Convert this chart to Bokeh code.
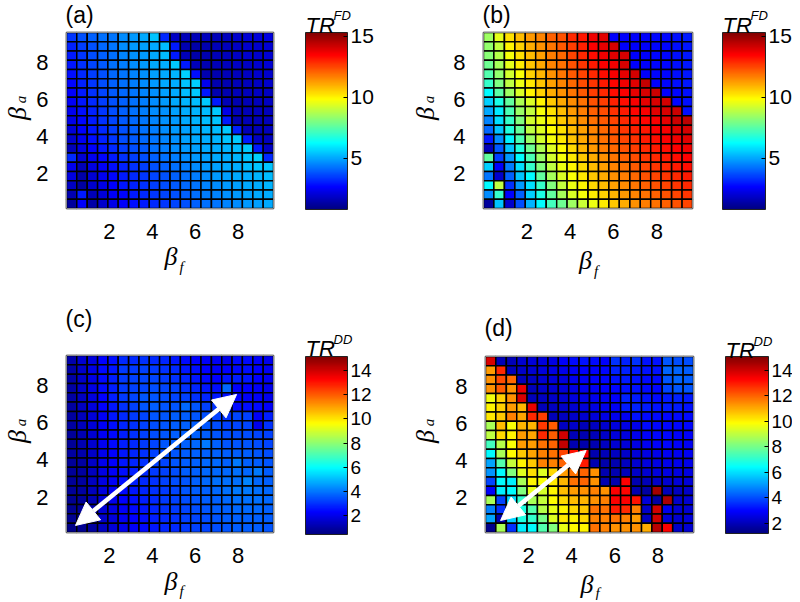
import numpy as np
from bokeh.plotting import figure
from bokeh.models import Range1d, FixedTicker, Arrow, NormalHead, LinearColorMapper, ColumnDataSource, LinearAxis
from bokeh.layouts import row, column
from bokeh.transform import linear_cmap
from bokeh.core.properties import value
from bokeh.embed import file_html
from bokeh.resources import INLINE

# ---------------- data ----------------
BETA_F = [0.24, 0.72, 1.21, 1.69, 2.17, 2.65, 3.14, 3.62, 4.10, 4.58,
          5.07, 5.55, 6.03, 6.51, 7.00, 7.48, 7.96, 8.44, 8.93, 9.41]
BETA_A = [9.35, 8.85, 8.35, 7.85, 7.35, 6.85, 6.35, 5.85, 5.35, 4.85,
          4.35, 3.85, 3.35, 2.85, 2.35, 1.85, 1.35, 0.85, 0.35]
TICKS_XY = [2, 4, 6, 8]
TICKS_FD = [5, 10, 15]
TICKS_DD = [2, 4, 6, 8, 10, 12, 14]
LABELS = ["(a)", "(b)", "(c)", "(d)"]

# rows: beta_a from 9.35 (top) down to 0.35 (bottom); columns: beta_f
TR_FD_A = [
    [3.4, 3.8, 4.0, 4.2, 4.3, 4.6, 4.8, 5.0, 5.4, 3.2, 1.8, 1.6, 1.6, 1.7, 1.6, 1.7, 1.9, 2.0, 2.1, 2.2],
    [3.1, 3.5, 3.8, 4.1, 4.3, 4.6, 4.8, 4.9, 5.0, 5.3, 3.0, 1.5, 1.4, 1.5, 1.6, 1.7, 1.8, 1.9, 1.9, 2.0],
    [3.0, 3.4, 3.7, 4.0, 4.2, 4.5, 4.7, 4.8, 5.0, 5.3, 3.0, 1.6, 1.4, 1.5, 1.6, 1.7, 1.8, 1.9, 1.9, 2.0],
    [2.9, 3.3, 3.6, 3.9, 4.2, 4.4, 4.6, 4.8, 5.0, 5.1, 5.5, 3.0, 1.6, 1.5, 1.6, 1.7, 1.8, 1.8, 1.9, 2.0],
    [2.8, 3.2, 3.5, 3.8, 4.1, 4.3, 4.5, 4.7, 4.9, 5.0, 5.2, 5.6, 2.8, 1.5, 1.5, 1.6, 1.7, 1.8, 1.9, 1.9],
    [2.7, 3.1, 3.4, 3.7, 4.0, 4.2, 4.4, 4.6, 4.8, 5.0, 5.1, 5.4, 5.6, 2.4, 1.5, 1.5, 1.6, 1.7, 1.8, 1.9],
    [2.6, 3.0, 3.3, 3.6, 3.9, 4.1, 4.3, 4.5, 4.7, 4.9, 5.0, 5.3, 5.5, 2.9, 1.5, 1.5, 1.6, 1.7, 1.8, 1.8],
    [2.5, 2.9, 3.2, 3.5, 3.8, 4.0, 4.2, 4.4, 4.6, 4.8, 5.0, 5.2, 5.3, 5.5, 3.0, 1.6, 1.5, 1.6, 1.7, 1.8],
    [2.4, 2.8, 3.1, 3.4, 3.7, 4.0, 4.2, 4.4, 4.6, 4.7, 4.9, 5.1, 5.2, 5.3, 5.5, 2.3, 1.6, 1.6, 1.7, 1.7],
    [2.3, 2.7, 3.0, 3.3, 3.6, 3.9, 4.1, 4.3, 4.5, 4.7, 4.8, 5.0, 5.2, 5.3, 5.4, 3.0, 1.5, 1.6, 1.6, 1.7],
    [2.1, 2.6, 2.9, 3.2, 3.5, 3.8, 4.0, 4.2, 4.4, 4.6, 4.8, 4.9, 5.1, 5.2, 5.3, 5.5, 3.1, 1.6, 1.6, 1.7],
    [1.9, 2.4, 2.8, 3.1, 3.4, 3.7, 3.9, 4.1, 4.3, 4.5, 4.7, 4.9, 5.0, 5.1, 5.2, 5.4, 5.5, 3.0, 1.8, 1.7],
    [1.6, 2.2, 2.6, 2.9, 3.2, 3.5, 3.7, 3.9, 4.2, 4.4, 4.6, 4.8, 4.9, 5.0, 5.1, 5.2, 5.3, 5.5, 3.0, 1.8],
    [3.2, 2.0, 2.4, 2.7, 3.0, 3.3, 3.5, 3.7, 4.0, 4.2, 4.4, 4.6, 4.8, 4.9, 5.0, 5.1, 5.2, 5.4, 5.6, 3.2],
    [2.4, 1.6, 2.2, 2.5, 2.8, 3.1, 3.3, 3.5, 3.8, 4.0, 4.2, 4.4, 4.6, 4.8, 4.9, 5.0, 5.1, 5.3, 5.4, 5.4],
    [2.2, 1.4, 2.0, 2.4, 2.7, 3.0, 3.2, 3.4, 3.6, 3.8, 4.0, 4.2, 4.4, 4.6, 4.8, 4.9, 5.0, 5.1, 5.2, 5.3],
    [1.8, 1.3, 1.9, 2.3, 2.6, 2.9, 3.1, 3.3, 3.5, 3.7, 3.9, 4.1, 4.3, 4.5, 4.6, 4.8, 4.9, 5.0, 5.1, 5.2],
    [1.5, 3.0, 1.6, 2.1, 2.5, 2.7, 3.0, 3.2, 3.4, 3.6, 3.8, 4.0, 4.2, 4.4, 4.5, 4.7, 4.8, 4.9, 5.0, 5.1],
    [1.2, 2.6, 1.4, 1.9, 2.3, 2.6, 2.8, 3.0, 3.2, 3.4, 3.6, 3.8, 4.0, 4.2, 4.3, 4.5, 4.6, 4.8, 4.9, 5.0],
]

TR_FD_B = [
    [8.5, 9.5, 10.3, 10.8, 11.3, 11.6, 12.1, 12.3, 12.9, 13.2, 13.7, 13.9, 2.6, 2.6, 2.6, 2.6, 2.7, 2.7, 2.8, 3.0],
    [8.3, 9.0, 10.0, 10.5, 11.0, 11.4, 11.8, 12.2, 12.6, 13.0, 13.5, 13.8, 14.1, 2.6, 2.6, 2.6, 2.7, 2.7, 2.8, 2.9],
    [8.2, 8.8, 9.7, 10.3, 10.8, 11.2, 11.7, 12.0, 12.5, 12.9, 13.3, 13.7, 13.9, 14.1, 2.6, 2.6, 2.7, 2.7, 2.8, 2.9],
    [7.8, 8.6, 9.5, 10.1, 10.7, 11.1, 11.6, 11.9, 12.3, 12.7, 13.1, 13.5, 13.7, 14.0, 2.6, 2.6, 2.7, 2.7, 2.8, 2.9],
    [7.4, 8.3, 9.2, 9.8, 10.5, 10.9, 11.4, 11.8, 12.2, 12.5, 12.9, 13.3, 13.6, 13.8, 14.1, 2.6, 2.7, 2.7, 2.8, 2.9],
    [7.0, 8.0, 8.9, 9.6, 10.2, 10.7, 11.2, 11.6, 12.0, 12.4, 12.7, 13.1, 13.4, 13.7, 13.9, 14.3, 2.6, 2.7, 2.8, 2.9],
    [6.2, 7.5, 8.5, 9.3, 10.0, 10.5, 11.0, 11.4, 11.8, 12.2, 12.6, 12.9, 13.3, 13.5, 13.8, 14.0, 14.2, 2.6, 2.7, 2.8],
    [5.6, 6.6, 7.6, 8.7, 9.3, 10.0, 10.6, 11.1, 11.5, 11.9, 12.3, 12.6, 13.0, 13.3, 13.6, 13.8, 14.0, 14.1, 2.7, 2.8],
    [5.0, 6.0, 7.3, 8.4, 9.0, 9.7, 10.3, 10.8, 11.3, 11.7, 12.1, 12.4, 12.8, 13.1, 13.4, 13.6, 13.9, 14.0, 14.2, 2.8],
    [4.5, 5.8, 7.0, 8.1, 9.2, 9.6, 10.1, 10.6, 11.0, 11.5, 11.9, 12.2, 12.5, 12.9, 13.2, 13.4, 13.6, 13.8, 14.2, 14.4],
    [4.1, 5.4, 6.7, 7.7, 8.9, 9.4, 9.9, 10.3, 10.8, 11.2, 11.6, 12.0, 12.3, 12.7, 13.0, 13.2, 13.5, 13.6, 13.9, 14.1],
    [3.0, 4.6, 6.1, 7.3, 8.4, 9.2, 9.7, 10.2, 10.7, 11.1, 11.5, 11.9, 12.2, 12.5, 12.8, 13.1, 13.3, 13.5, 13.7, 13.9],
    [1.6, 3.9, 5.4, 6.7, 7.8, 8.7, 9.4, 9.9, 10.4, 10.9, 11.3, 11.7, 12.0, 12.3, 12.6, 12.9, 13.1, 13.3, 13.5, 13.7],
    [7.6, 3.5, 4.8, 6.2, 7.3, 8.4, 9.2, 9.7, 10.2, 10.6, 11.0, 11.4, 11.8, 12.1, 12.4, 12.7, 12.9, 13.1, 13.3, 13.5],
    [5.6, 2.6, 4.4, 5.8, 7.0, 8.1, 8.9, 9.6, 10.0, 10.4, 10.8, 11.2, 11.6, 11.9, 12.2, 12.5, 12.7, 12.9, 13.1, 13.3],
    [4.3, 1.9, 4.0, 5.4, 6.2, 7.6, 8.6, 9.3, 9.8, 10.2, 10.6, 11.0, 11.4, 11.7, 12.0, 12.3, 12.5, 12.7, 12.9, 13.1],
    [6.2, 8.9, 3.3, 4.8, 5.8, 7.0, 8.1, 9.0, 9.6, 10.0, 10.4, 10.8, 11.2, 11.5, 11.8, 12.1, 12.3, 12.5, 12.7, 12.9],
    [4.6, 7.0, 2.6, 4.0, 5.6, 6.6, 7.6, 8.6, 9.3, 9.7, 10.1, 10.5, 10.9, 11.3, 11.6, 11.9, 12.1, 12.3, 12.5, 12.7],
    [1.2, 5.4, 1.9, 3.7, 5.2, 6.2, 7.2, 7.8, 8.5, 9.1, 9.6, 10.1, 10.6, 11.0, 11.4, 11.7, 11.9, 12.1, 12.3, 12.5],
]

TR_DD_C = [
    [1.1, 1.6, 1.8, 2.3, 2.5, 2.9, 2.9, 3.0, 2.9, 2.8, 2.6, 2.4, 2.3, 2.2, 2.1, 2.0, 2.4, 2.4, 2.2, 2.0],
    [1.0, 1.5, 1.9, 2.4, 2.6, 3.1, 3.1, 3.2, 3.1, 3.0, 2.9, 2.6, 2.5, 2.3, 2.2, 2.3, 2.4, 2.5, 2.3, 2.1],
    [1.0, 1.5, 1.9, 2.4, 2.7, 3.1, 3.2, 3.3, 3.3, 3.1, 3.0, 2.8, 2.6, 2.4, 2.3, 2.6, 2.7, 2.6, 2.3, 2.1],
    [1.0, 1.5, 1.9, 2.4, 2.7, 3.1, 3.2, 3.3, 3.4, 3.3, 3.2, 3.0, 2.8, 2.6, 2.5, 3.8, 2.3, 2.3, 2.2, 2.0],
    [1.0, 1.4, 1.8, 2.3, 2.7, 3.1, 3.3, 3.5, 3.5, 3.4, 3.3, 3.2, 3.0, 2.8, 2.6, 2.5, 2.3, 2.2, 2.2, 2.0],
    [0.9, 1.4, 1.8, 2.3, 2.6, 3.0, 3.2, 3.5, 3.6, 3.5, 3.5, 3.8, 3.5, 3.2, 3.0, 2.7, 2.4, 2.5, 2.4, 2.2],
    [0.9, 1.3, 1.7, 2.2, 2.6, 2.9, 3.1, 3.3, 3.5, 3.5, 3.6, 3.6, 3.5, 3.4, 3.2, 3.0, 3.3, 3.2, 2.2, 2.7],
    [0.9, 1.3, 1.7, 2.2, 2.5, 2.8, 3.0, 3.2, 3.4, 3.5, 3.6, 3.7, 3.6, 3.5, 3.4, 3.2, 3.3, 3.3, 2.0, 3.0],
    [0.8, 1.2, 1.6, 2.1, 2.4, 2.7, 3.0, 3.2, 3.4, 3.5, 3.6, 3.7, 3.7, 3.6, 3.5, 3.4, 3.4, 3.4, 3.3, 3.2],
    [0.8, 1.2, 1.6, 2.1, 2.4, 2.7, 2.9, 3.1, 3.3, 3.5, 3.6, 3.7, 3.8, 4.0, 3.7, 3.5, 3.5, 3.5, 3.4, 3.3],
    [0.9, 1.1, 1.5, 2.0, 2.3, 2.6, 2.8, 3.0, 3.2, 3.4, 3.5, 3.6, 3.7, 3.7, 3.7, 3.6, 3.6, 3.6, 3.5, 3.4],
    [0.8, 1.0, 1.5, 2.0, 2.3, 2.6, 2.8, 3.0, 3.2, 3.3, 3.5, 3.6, 3.7, 3.8, 3.8, 3.7, 4.0, 3.7, 3.6, 3.5],
    [0.8, 0.9, 1.4, 1.9, 2.2, 2.5, 2.7, 2.9, 3.1, 3.2, 3.4, 3.6, 3.7, 3.8, 3.8, 3.8, 3.9, 3.8, 4.0, 3.6],
    [0.8, 0.9, 1.4, 1.9, 2.2, 2.5, 2.7, 2.9, 3.0, 3.2, 3.4, 3.5, 3.7, 3.8, 3.9, 3.9, 3.9, 4.2, 3.8, 3.7],
    [0.8, 0.9, 1.3, 1.8, 2.1, 2.4, 2.6, 2.8, 3.0, 3.1, 3.3, 3.5, 3.6, 3.7, 3.8, 3.9, 4.0, 4.0, 3.9, 3.8],
    [0.7, 0.8, 1.2, 1.7, 2.0, 2.3, 2.5, 2.7, 2.9, 3.1, 3.2, 3.4, 3.5, 3.6, 3.7, 3.8, 3.9, 3.9, 3.9, 3.8],
    [0.7, 0.8, 1.1, 1.6, 1.9, 2.2, 2.4, 2.6, 2.8, 3.0, 3.1, 3.3, 3.4, 3.5, 3.6, 3.7, 3.8, 3.8, 3.8, 3.7],
    [0.7, 0.8, 1.0, 1.5, 1.8, 2.1, 2.3, 2.5, 2.7, 2.9, 3.0, 3.2, 3.3, 3.4, 3.5, 3.6, 3.7, 3.7, 3.7, 3.6],
    [0.6, 0.7, 0.9, 1.4, 1.7, 2.0, 2.2, 2.4, 2.6, 2.8, 2.9, 3.1, 3.2, 3.3, 3.4, 3.5, 3.6, 3.6, 3.6, 3.5],
]

TR_DD_D = [
    [13.9, 2.0, 2.0, 2.3, 2.4, 2.5, 2.6, 2.9, 3.1, 3.2, 3.1, 2.9, 3.6, 3.4, 3.6, 3.2, 3.2, 4.1, 4.0, 4.0],
    [11.2, 12.8, 2.0, 2.2, 2.3, 2.5, 2.6, 2.7, 2.8, 2.9, 2.9, 3.0, 3.4, 3.4, 3.3, 3.2, 3.2, 4.3, 4.3, 4.2],
    [11.4, 12.3, 11.9, 2.0, 2.1, 2.3, 2.4, 2.5, 2.7, 2.8, 2.9, 3.0, 3.2, 3.3, 3.2, 3.1, 3.1, 4.1, 4.3, 4.2],
    [11.4, 12.1, 11.4, 13.6, 2.0, 2.2, 2.3, 2.4, 2.6, 2.7, 2.8, 2.9, 3.0, 3.2, 3.2, 3.1, 3.0, 3.9, 4.1, 4.1],
    [9.7, 10.5, 11.4, 13.9, 2.0, 2.1, 2.2, 2.3, 2.5, 2.6, 2.7, 2.8, 2.9, 3.4, 3.3, 3.2, 3.1, 3.3, 3.4, 3.3],
    [10.0, 10.5, 11.2, 10.9, 13.6, 2.0, 2.1, 2.2, 2.3, 2.4, 2.6, 2.7, 2.8, 3.3, 3.4, 3.3, 3.2, 3.3, 3.3, 3.2],
    [10.2, 10.6, 11.6, 11.1, 12.8, 12.5, 2.0, 2.1, 2.2, 2.3, 2.4, 2.6, 2.7, 2.8, 3.2, 3.1, 3.1, 3.0, 3.1, 3.1],
    [8.7, 10.8, 9.8, 10.9, 10.9, 12.6, 12.1, 2.1, 2.2, 2.0, 2.1, 2.3, 2.5, 2.6, 2.7, 3.1, 3.0, 3.0, 3.0, 3.0],
    [9.0, 10.4, 10.0, 11.2, 11.1, 12.8, 12.1, 14.0, 2.0, 1.9, 2.0, 2.2, 2.4, 2.5, 2.7, 2.9, 3.0, 3.0, 2.9, 2.9],
    [7.3, 8.9, 9.8, 11.2, 11.2, 11.8, 12.0, 14.2, 1.9, 1.8, 1.9, 2.1, 2.3, 2.4, 2.6, 2.8, 2.9, 3.0, 2.9, 2.8],
    [6.4, 8.7, 9.9, 10.6, 11.1, 11.6, 11.8, 12.4, 13.1, 13.4, 1.9, 2.0, 2.1, 2.2, 2.4, 2.6, 2.7, 2.8, 2.8, 2.8],
    [5.2, 7.5, 9.1, 10.0, 10.6, 11.6, 11.6, 12.0, 12.4, 13.0, 1.9, 1.8, 1.9, 2.1, 2.3, 2.5, 2.6, 2.7, 2.7, 2.7],
    [5.0, 6.4, 8.2, 9.5, 10.3, 9.4, 10.4, 11.2, 11.8, 12.0, 11.4, 1.9, 1.9, 2.0, 2.2, 2.3, 2.5, 2.6, 2.6, 2.6],
    [3.9, 6.4, 6.2, 8.7, 10.0, 9.8, 10.2, 10.9, 11.8, 12.0, 11.4, 1.9, 1.8, 13.4, 1.9, 2.0, 2.2, 2.3, 2.4, 2.4],
    [2.9, 6.2, 6.4, 8.2, 9.6, 9.3, 10.0, 10.8, 11.2, 11.4, 11.6, 11.4, 13.4, 13.3, 1.9, 1.7, 14.6, 2.0, 2.1, 2.2],
    [8.7, 3.9, 5.9, 7.1, 8.7, 9.1, 9.9, 10.4, 10.8, 10.9, 11.4, 11.6, 13.4, 13.4, 13.1, 2.4, 1.7, 14.5, 2.2, 2.3],
    [4.7, 3.6, 5.6, 6.8, 7.5, 8.9, 9.6, 10.0, 10.4, 10.6, 11.8, 11.8, 13.0, 12.8, 11.6, 2.2, 14.0, 2.7, 2.3, 2.3],
    [5.2, 1.8, 5.8, 6.8, 7.1, 8.0, 9.4, 10.2, 10.0, 10.4, 11.6, 11.6, 11.8, 11.6, 11.2, 2.1, 14.0, 2.4, 2.3, 2.4],
    [1.4, 8.7, 3.6, 6.2, 6.4, 7.5, 8.2, 9.6, 9.9, 10.0, 11.8, 11.6, 11.4, 11.4, 11.4, 11.0, 14.3, 13.4, 2.2, 2.3],
]

RANGE_FD = (0.8, 15.3)
RANGE_DD_C = (0.43, 15.16)
RANGE_DD_D = (1.2, 15.1)

# ---------------- style ----------------
def jet(n=256):
    out = []
    for i in range(n):
        t = i / (n - 1)
        r = min(max(1.5 - abs(4 * t - 3), 0), 1)
        g = min(max(1.5 - abs(4 * t - 2), 0), 1)
        b = min(max(1.5 - abs(4 * t - 1), 0), 1)
        out.append("#%02x%02x%02x" % (round(r * 255), round(g * 255), round(b * 255)))
    return out

JET = jet()
SANS = "Liberation Sans"
SERIF = "Liberation Serif"
CELL_W = 0.4825
CELL_H = 0.5
XR = (0.0, 9.65)
YR = (0.1, 9.6)


def panel(M, rng, cb_ticks, cb_font, sup, geo):
    W, H = geo["W"], geo["H"]
    hx0, hx1, hy0, hy1 = geo["heat"]
    cx0p, cx1p, cy0p, cy1p = geo["cbar"]
    sx = (hx1 - hx0) / (XR[1] - XR[0])
    sy = (hy1 - hy0) / (YR[1] - YR[0])
    xs0 = XR[0] - hx0 / sx
    ye0 = YR[1] + hy0 / sy
    X = lambda xp: xs0 + xp / sx
    Y = lambda yp: ye0 - yp / sy

    lo, hi = rng
    scb = (cy1p - cy0p) / (hi - lo)
    cb_end = hi + cy0p / scb
    cb_start = cb_end - H / scb

    p = figure(width=W, height=H, x_range=Range1d(xs0, xs0 + W / sx),
               y_range=Range1d(ye0 - H / sy, ye0),
               output_backend="svg", toolbar_location=None,
               min_border_left=0, min_border_right=0, min_border_top=0, min_border_bottom=0)
    p.extra_y_ranges = {"cb": Range1d(cb_start, cb_end)}
    p.outline_line_color = None
    p.grid.visible = False
    p.background_fill_color = "white"
    p.border_fill_color = "white"

    # heatmap cells
    xs, ys, vs = [], [], []
    for i, rv in enumerate(M):
        for j, v in enumerate(rv):
            xs.append(BETA_F[j]); ys.append(BETA_A[i]); vs.append(v)
    src = ColumnDataSource(dict(x=xs, y=ys, v=vs))
    p.rect(x="x", y="y", width=CELL_W, height=CELL_H, source=src,
           fill_color=linear_cmap("v", JET, lo, hi),
           line_color="black", line_width=1.5)
    p.quad(left=[XR[0]], right=[XR[1]], bottom=[YR[0]], top=[YR[1]],
           fill_color=None, line_color="#8a8a8a", line_width=1)

    # heatmap axes placed on the edges of the cell grid
    for ax in (p.xaxis, p.yaxis):
        ax.ticker = FixedTicker(ticks=TICKS_XY)
        ax.major_tick_line_color = None
        ax.minor_tick_line_color = None
        ax.axis_line_color = None
        ax.major_label_text_font = SANS
        ax.major_label_text_font_size = "22px"
        ax.major_label_text_color = "black"
    p.xaxis.fixed_location = YR[0]
    p.yaxis.fixed_location = XR[0]
    p.xaxis.major_label_standoff = 9
    p.yaxis.major_label_standoff = 12

    # colour bar
    cx0, cx1 = X(cx0p), X(cx1p)
    mapper = LinearColorMapper(palette=JET, low=lo, high=hi)
    grad = np.linspace(lo, hi, 256).reshape(-1, 1)
    p.image(image=[grad], x=cx0, y=lo, dw=cx1 - cx0, dh=hi - lo,
            color_mapper=mapper, y_range_name="cb")
    p.quad(left=[cx0], right=[cx1], bottom=[lo], top=[hi], fill_color=None,
           line_color="#222222", line_width=1, y_range_name="cb")
    cax = LinearAxis(y_range_name="cb", fixed_location=cx1, ticker=FixedTicker(ticks=cb_ticks))
    cax.major_tick_in = 4
    cax.major_tick_out = 0
    cax.minor_tick_line_color = None
    cax.axis_line_color = None
    cax.major_tick_line_color = "black"
    cax.major_label_text_font = SANS
    cax.major_label_text_font_size = cb_font
    cax.major_label_text_color = "black"
    cax.major_label_standoff = 3
    p.add_layout(cax, "right")

    def txt(xp, yp, s, size, font=SANS, style="normal", align="left",
            baseline="alphabetic", angle=0.0):
        p.text(x=[X(xp)], y=[Y(yp)], text=[s], text_font=value(font),
               text_font_size=value(size), text_font_style=value(style),
               text_align=align, text_baseline=baseline, angle=angle, text_color="black")

    # panel tag
    tx, ty = geo["tag"]
    txt(tx, ty, geo["label"], "23px", baseline="middle")
    # colour-bar title TR^xx
    trx, trb, supx, supb = geo["tr"]
    txt(trx, trb, "TR", "22px", style="italic")
    txt(supx, supb, sup, "13px", style="italic")
    # beta_f (centres)
    bx, by, fx, fy = geo["bf"]
    txt(bx, by, "β", "26px", font=SERIF, style="italic", align="center", baseline="middle")
    txt(fx, fy, "f", "15px", font=SERIF, style="italic", align="center", baseline="middle")
    # beta_a rotated (centres)
    ax_, ay_, sx_, sy_ = geo["ba"]
    txt(ax_, ay_, "β", "26px", font=SERIF, style="italic", align="center",
        baseline="middle", angle=np.pi / 2)
    txt(sx_, sy_, "a", "15px", font=SERIF, style="italic", align="center",
        baseline="middle", angle=np.pi / 2)
    return p


def add_arrow(p, x0, y0, x1, y1):
    p.add_layout(Arrow(start=NormalHead(size=23, fill_color="white", line_color="white"),
                       end=NormalHead(size=23, fill_color="white", line_color="white"),
                       x_start=x0, y_start=y0, x_end=x1, y_end=y1,
                       line_color="white", line_width=4.5))


GEO_A = dict(W=396, H=300, heat=(66, 273, 32, 208), cbar=(305, 347, 32, 209),
             tag=(65, 14), label=LABELS[0], tr=(305, 25, 333, 15),
             bf=(170.5, 256, 181, 266), ba=(16.5, 113, 20, 99))
GEO_B = dict(W=396, H=300, heat=(87, 296, 32, 208), cbar=(326, 369, 32, 209),
             tag=(86, 14), label=LABELS[1], tr=(326, 25, 354, 15),
             bf=(189, 260, 199.5, 270), ba=(28.5, 113, 32, 99))
GEO_C = dict(W=396, H=300, heat=(66, 273, 55, 232), cbar=(305, 347, 56, 234),
             tag=(65, 18), label=LABELS[2], tr=(305, 48, 333, 39),
             bf=(170.5, 281, 181, 290), ba=(16.5, 136, 20, 122))
GEO_D = dict(W=396, H=300, heat=(89, 297, 56, 232), cbar=(329, 372, 56, 233),
             tag=(88, 27), label=LABELS[3], tr=(329, 50, 357, 41),
             bf=(190.5, 284, 201, 292), ba=(28.5, 136, 32, 122))

pa = panel(TR_FD_A, RANGE_FD, TICKS_FD, "21px", "FD", GEO_A)
pb = panel(TR_FD_B, RANGE_FD, TICKS_FD, "21px", "FD", GEO_B)
pc = panel(TR_DD_C, RANGE_DD_C, TICKS_DD, "19px", "DD", GEO_C)
pd = panel(TR_DD_D, RANGE_DD_D, TICKS_DD, "19px", "DD", GEO_D)

add_arrow(pc, 0.42, 0.48, 7.93, 7.51)
add_arrow(pd, 0.70, 0.75, 4.67, 4.53)

layout = column(row(pa, pb, spacing=0), row(pc, pd, spacing=0), spacing=0)

open("out.html", "w").write(file_html(layout, INLINE))
